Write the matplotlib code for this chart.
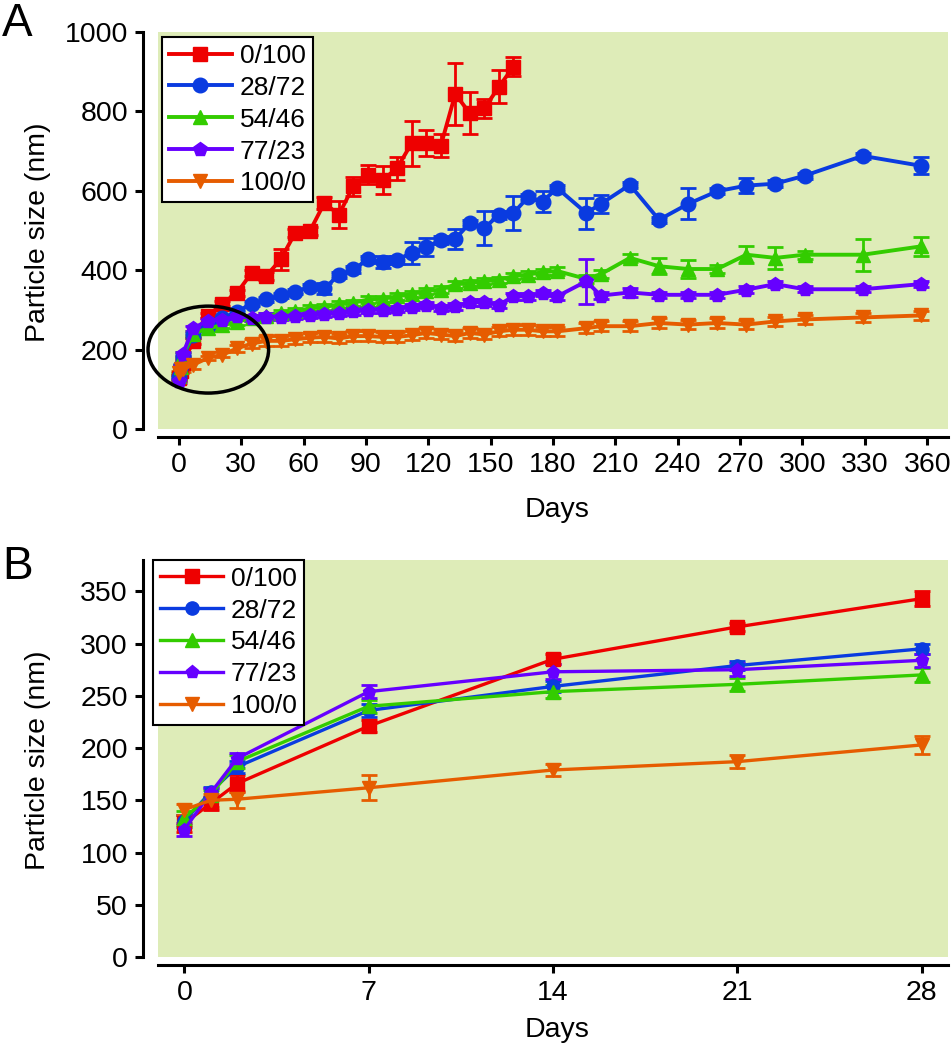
import matplotlib

matplotlib.use("Agg")
import matplotlib.pyplot as plt
from matplotlib.patches import Ellipse

plt.rcParams["font.family"] = ["Liberation Sans", "DejaVu Sans"]

# ---- data: panel A (long-term, days 0..~360) ----
days_red = [0, 1, 2, 7, 14, 21, 28, 35, 42, 49, 56, 63, 70, 77, 84, 91, 98, 105,
            112, 119, 126, 133, 140, 147, 154, 161]
days_a = [0, 1, 2, 7, 14, 21, 28, 35, 42, 49, 56, 63, 70, 77, 84, 91, 98, 105,
          112, 119, 126, 133, 140, 147, 154, 161, 168, 175, 182, 196, 203, 217,
          231, 245, 259, 273, 287, 301, 329, 357]

red_a = [128, 147, 166, 221, 285, 316, 343, 393, 385, 427, 494, 498, 569, 540,
         612, 640, 627, 657, 720, 720, 713, 844, 795, 808, 862, 913]
red_a_err = [8, 6, 8, 8, 6, 6, 8, 8, 10, 27, 10, 10, 15, 34, 24, 24, 36, 29, 57,
             33, 29, 77, 53, 24, 42, 24]

blue_a = [130, 158, 182, 236, 259, 279, 295, 316, 327, 337, 346, 358, 354, 388,
          402, 427, 421, 426, 444, 458, 476, 479, 519, 506, 540, 544, 584, 573,
          607, 544, 567, 615, 527, 567, 599, 613, 618, 638, 688, 663]
blue_a_err = [6, 5, 6, 6, 5, 5, 5, 6, 6, 6, 6, 6, 15, 8, 8, 8, 15, 10, 28, 22,
              10, 25, 8, 42, 10, 42, 8, 27, 8, 39, 23, 8, 8, 39, 8, 19, 8, 8, 8, 21]

green_a = [133, 155, 187, 240, 254, 261, 270, 280, 284, 292, 296, 304, 307, 314,
           318, 326, 328, 334, 340, 348, 351, 364, 368, 372, 376, 385, 389, 395,
           398, 378, 390, 431, 410, 403, 403, 439, 431, 439, 439, 460]
green_a_err = [7, 5, 6, 6, 6, 6, 7, 8, 8, 8, 8, 8, 8, 8, 8, 8, 8, 8, 8, 8, 8, 8,
               8, 8, 8, 8, 8, 8, 10, 10, 10, 10, 20, 23, 10, 21, 27, 10, 40, 23]

purple_a = [122, 157, 190, 254, 273, 275, 284, 280, 283, 282, 285, 287, 290, 292,
            296, 300, 300, 303, 308, 313, 305, 309, 319, 319, 313, 334, 334, 343,
            334, 372, 336, 344, 338, 338, 338, 351, 365, 352, 352, 365]
purple_a_err = [6, 5, 5, 6, 7, 6, 6, 8, 8, 8, 8, 8, 8, 8, 8, 8, 8, 8, 8, 8, 8, 8,
                8, 8, 8, 8, 8, 8, 8, 56, 8, 12, 8, 8, 8, 8, 8, 8, 8, 8]

orange_a = [141, 150, 151, 162, 179, 187, 203, 215, 222, 222, 226, 230, 232, 228,
            234, 234, 232, 232, 236, 242, 238, 234, 242, 238, 246, 250, 250, 246,
            246, 254, 259, 259, 267, 263, 267, 263, 271, 276, 281, 286]
orange_a_err = [5, 6, 8, 12, 6, 6, 9] + [12] * 33

# ---- data: panel B (first 28 days) ----
days_b = [0, 1, 2, 7, 14, 21, 28]
red_b = [128, 147, 166, 221, 285, 316, 343]
red_b_err = [8, 6, 8, 6, 5, 4, 7]
blue_b = [130, 158, 182, 236, 259, 279, 295]
blue_b_err = [6, 5, 6, 6, 5, 4, 5]
green_b = [133, 155, 187, 240, 254, 261, 270]
green_b_err = [7, 5, 6, 6, 6, 6, 7]
purple_b = [122, 157, 190, 254, 273, 275, 284]
purple_b_err = [6, 5, 5, 6, 7, 6, 6]
orange_b = [141, 150, 151, 162, 179, 187, 203]
orange_b_err = [5, 6, 8, 12, 6, 6, 9]

labels = ["0/100", "28/72", "54/46", "77/23", "100/0"]
colors = ["#EE0000", "#0A3BE0", "#33CC00", "#6600FF", "#E65C00"]
markers = ["s", "o", "^", "p", "v"]
BG = "#DEECB8"

series_a = [
    (days_red, red_a, red_a_err),
    (days_a, blue_a, blue_a_err),
    (days_a, green_a, green_a_err),
    (days_a, purple_a, purple_a_err),
    (days_a, orange_a, orange_a_err),
]
series_b = [
    (days_b, red_b, red_b_err),
    (days_b, blue_b, blue_b_err),
    (days_b, green_b, green_b_err),
    (days_b, purple_b, purple_b_err),
    (days_b, orange_b, orange_b_err),
]

W, H = 953, 1050
fig = plt.figure(figsize=(W / 100, H / 100), dpi=100)
ax_a = fig.add_axes([158 / W, 1 - 429 / H, 790 / W, 397 / H])
ax_b = fig.add_axes([158 / W, 1 - 957 / H, 790 / W, 397 / H])


def style(ax):
    ax.set_facecolor(BG)
    for s in ("top", "right"):
        ax.spines[s].set_visible(False)
    ax.spines["left"].set_position(("outward", 10.8))
    ax.spines["bottom"].set_position(("outward", 5.8))
    for s in ("left", "bottom"):
        ax.spines[s].set_linewidth(2.2)
    ax.tick_params(direction="out", length=5.8, width=2.2, labelsize=20.5, pad=5)


def draw(ax, series, lw, ms):
    handles = []
    # draw from the back so red ends up on top
    for i in reversed(range(len(series))):
        x, y, e = series[i]
        ax.errorbar(x, y, yerr=e, fmt="none", ecolor=colors[i], elinewidth=2,
                    capsize=6, capthick=2, zorder=2 + i * 0.1)
        (h,) = ax.plot(x, y, color=colors[i], marker=markers[i], lw=lw, ms=ms,
                       label=labels[i], zorder=3 + i * 0.1)
        handles.append(h)
    return handles[::-1]


def legend(ax, handles, anchor):
    leg = ax.legend(handles, labels, loc="upper left", bbox_to_anchor=anchor,
                    fontsize=19, handlelength=2.4, handletextpad=0.3,
                    labelspacing=0.3, borderpad=0.25, borderaxespad=0,
                    fancybox=False, framealpha=1, edgecolor="black")
    leg.get_frame().set_linewidth(1.5)


# ---- panel A ----
style(ax_a)
h = draw(ax_a, series_a, lw=2.8, ms=10.5)
ax_a.set_xlim(-10, 370)
ax_a.set_ylim(0, 1000)
ax_a.set_xticks(range(0, 361, 30))
ax_a.set_yticks(range(0, 1001, 200))
legend(ax_a, h, (0.005, 0.987))
ax_a.add_patch(Ellipse((14.2, 200), width=58, height=219, fill=False,
                       ec="black", lw=2.5, clip_on=False, zorder=10))

# ---- panel B ----
style(ax_b)
h = draw(ax_b, series_b, lw=2.4, ms=9.5)
ax_b.set_xlim(-1, 29)
ax_b.set_ylim(0, 380)
ax_b.set_xticks(days_b[:1] + days_b[3:])
ax_b.set_yticks(range(0, 351, 50))
legend(ax_b, h, (-0.006, 1.0))

# labels
fig.text(38 / W, 1 - 232 / H, "Particle size (nm)", rotation=90, ha="center",
         va="center", fontsize=20.5)
fig.text(38 / W, 1 - 760 / H, "Particle size (nm)", rotation=90, ha="center",
         va="center", fontsize=20.5)
fig.text(557 / W, 1 - 510 / H, "Days", ha="center", va="center", fontsize=20.5)
fig.text(557 / W, 1 - 1030 / H, "Days", ha="center", va="center", fontsize=20.5)
fig.text(2 / W, 1 - 2 / H, "A", ha="left", va="top", fontsize=33)
fig.text(2 / W, 1 - 545 / H, "B", ha="left", va="top", fontsize=33)

fig.savefig("out.png", dpi=100)
